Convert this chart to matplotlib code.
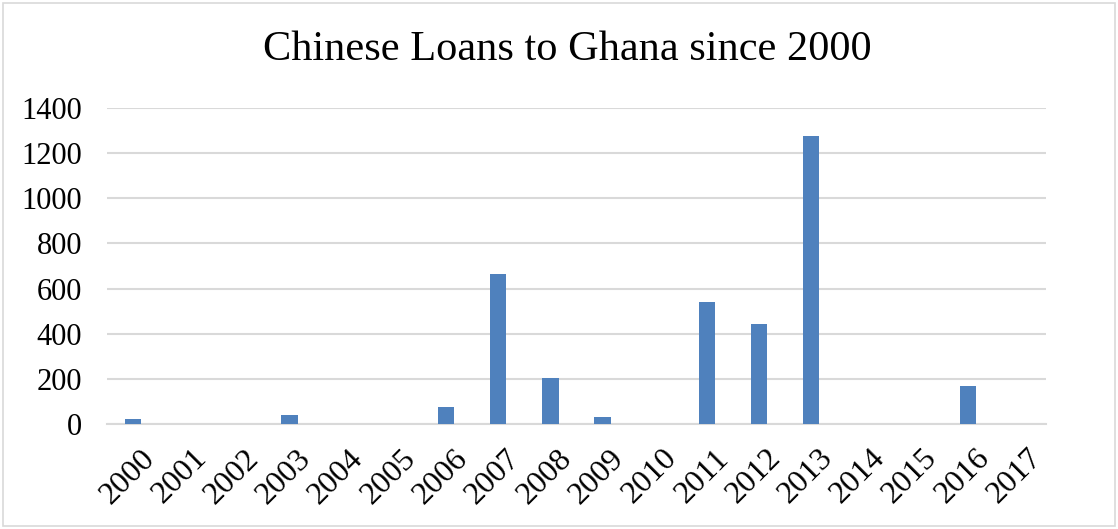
import matplotlib
matplotlib.use("Agg")
import matplotlib.pyplot as plt
from matplotlib.patches import Rectangle
from matplotlib.transforms import ScaledTranslation

years = [str(y) for y in range(2000, 2018)]
loans = [23, 0, 0, 41, 0, 0, 78, 665, 206, 32, 0, 541, 445, 1273, 0, 0, 171, 0]
y_ticks = [0, 200, 400, 600, 800, 1000, 1200, 1400]

plt.rcParams['font.family'] = ['Liberation Serif', 'DejaVu Serif']

fig = plt.figure(figsize=(11.18, 5.29), dpi=100)
ax = fig.add_axes([107 / 1118, 1 - 424.3 / 529, 939 / 1118, 316.7 / 529])

x = list(range(len(years)))
ax.bar(x, loans, width=0.31, color='#4f81bd', zorder=3)

ax.set_xlim(-0.5, len(years) - 0.5)
ax.set_ylim(0, 1400)
ax.set_yticks(y_ticks)
ax.set_yticklabels([str(v) for v in y_ticks], fontsize=22)
ax.set_xticks(x)
ax.set_xticklabels(years, fontsize=23, rotation=45, ha='right', rotation_mode='anchor')
ax.tick_params(axis='both', length=0)
ax.tick_params(axis='y', pad=18)
ax.tick_params(axis='x', pad=14)

# nudge the slanted year labels slightly to the right
for lbl in ax.get_xticklabels():
    lbl.set_transform(lbl.get_transform() + ScaledTranslation(0.07, 0, fig.dpi_scale_trans))

ax.grid(axis='y', color='#d9d9d9', linewidth=1.5, zorder=0)
for side in ['top', 'right', 'left']:
    ax.spines[side].set_visible(False)
ax.spines['bottom'].set_color('#d9d9d9')
ax.spines['bottom'].set_linewidth(1.5)

fig.text(567 / 1118, 1 - 50 / 529, 'Chinese Loans to Ghana since 2000', ha='center', va='center',
         fontsize=30.5)

fig.patches.append(Rectangle((3 / 1118, 3 / 529), 1 - 6 / 1118, 1 - 6 / 529,
                             transform=fig.transFigure, fill=False,
                             edgecolor='#d9d9d9', linewidth=1.2))

fig.savefig('out.png', dpi=100, facecolor='white')
